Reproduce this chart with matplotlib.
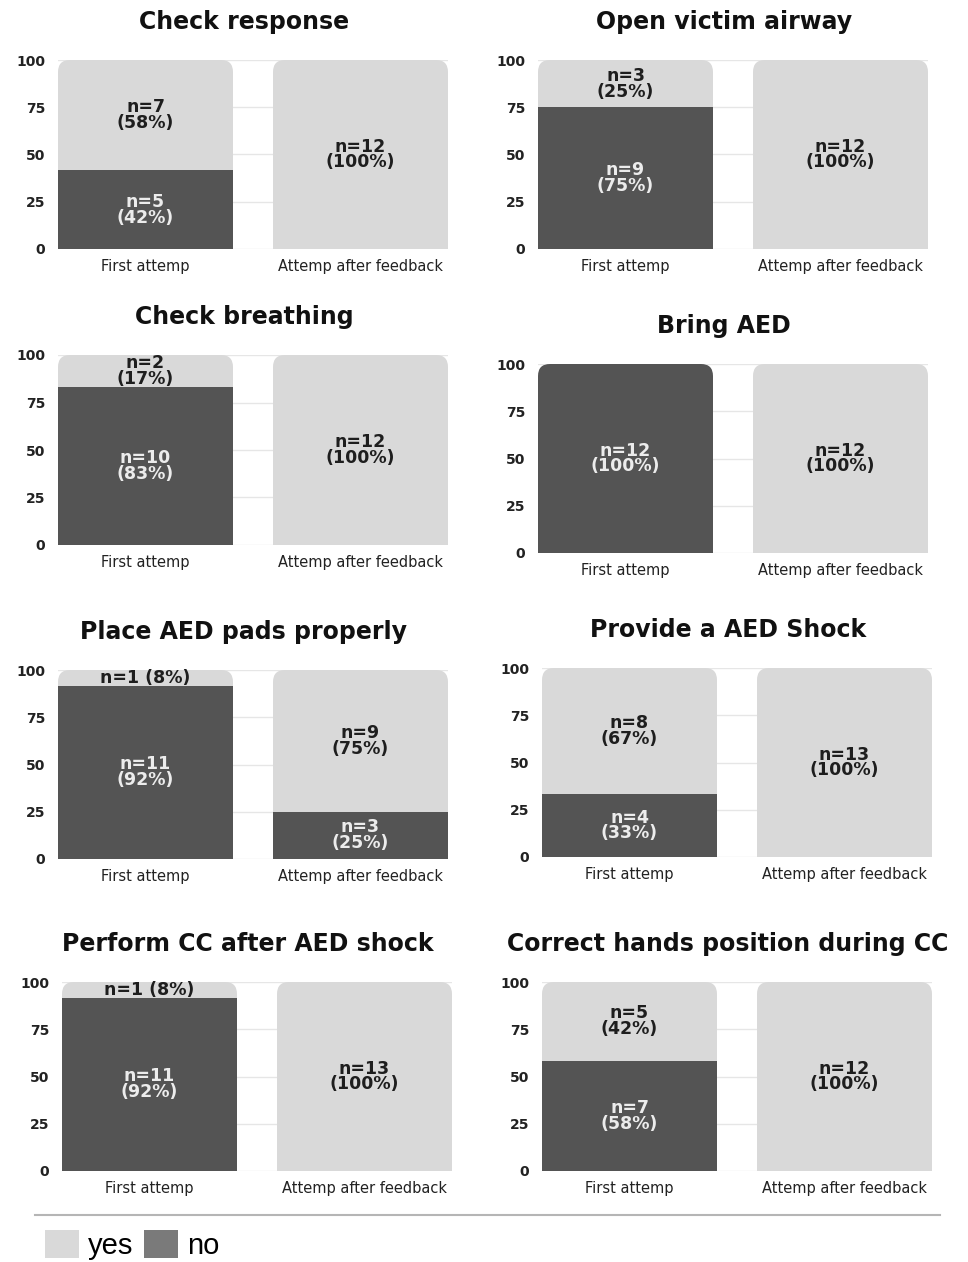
import matplotlib
matplotlib.use("Agg")
import matplotlib.pyplot as plt
import numpy as np
from matplotlib.patches import FancyBboxPatch, Patch
from matplotlib.lines import Line2D

plt.rcParams['font.family'] = ['DejaVu Sans']

# datos
titulos = ['Check response', 'Open victim airway', 'Check breathing', 'Bring AED',
           'Place AED pads properly', 'Provide a AED Shock',
           'Perform CC after AED shock', 'Correct hands position during CC']
grupos = ['First attemp', 'Attemp after feedback']
primer_no = [5, 9, 10, 12, 11, 4, 11, 7]
primer_si = [7, 3, 2, 0, 1, 8, 1, 5]
despues_no = [0, 0, 0, 0, 3, 0, 0, 0]
despues_si = [12, 12, 12, 12, 9, 13, 13, 12]
ticks_y = [0, 25, 50, 75, 100]

OSCURO = '#545454'
CLARO = '#d9d9d9'
LEYENDA_NO = '#7a7a7a'

W, H = 968, 1262
fig = plt.figure(figsize=(W / 100, H / 100), dpi=100)

# cajas de cada panel en pixeles (x0, x1, y_top, y_bottom)
cajas = [(58, 448, 60, 249), (538, 928, 60, 249),
         (58, 448, 355, 545), (538, 928, 364, 553),
         (58, 448, 670, 859), (542, 932, 668, 857),
         (62, 452, 982, 1171), (542, 932, 982, 1171)]

ancho = 0.814
radio_px = 12


def etiqueta(n, total, partido):
    pct = round(n / total * 100)
    if partido:
        return f'n={n}\n({pct}%)'
    return f'n={n} ({pct}%)'


def panel(ax, titulo, nos, sis):
    x = np.arange(len(grupos))
    totales = np.array(nos) + np.array(sis)
    pct_no = np.array(nos) / totales * 100
    pct_si = np.array(sis) / totales * 100

    ax.set_xlim(-ancho / 2, len(grupos) - 1 + ancho / 2)
    ax.set_ylim(0, 100)

    b_no = ax.bar(x, pct_no, width=ancho, color=OSCURO, zorder=2)
    b_si = ax.bar(x, pct_si, bottom=pct_no, width=ancho, color=CLARO, zorder=2)

    # esquinas redondeadas arriba
    bb = ax.get_position()
    ax_w = bb.width * W
    ax_h = bb.height * H
    xr = ax.get_xlim()[1] - ax.get_xlim()[0]
    r = radio_px * xr / ax_w
    asp = (100 / ax_h) / (xr / ax_w)
    for i, xi in enumerate(x):
        clip = FancyBboxPatch((xi - ancho / 2, -60), ancho, 160,
                              boxstyle=f'round,pad=0,rounding_size={r}',
                              mutation_aspect=asp, transform=ax.transData)
        b_no[i].set_clip_path(clip)
        b_si[i].set_clip_path(clip)

    for i, xi in enumerate(x):
        if nos[i] > 0:
            ax.text(xi, pct_no[i] / 2, etiqueta(nos[i], totales[i], pct_no[i] > 12),
                    ha='center', va='center', color='#ececec', fontsize=12.5,
                    fontweight='bold', linespacing=0.85, zorder=3)
        if sis[i] > 0:
            ax.text(xi, pct_no[i] + pct_si[i] / 2,
                    etiqueta(sis[i], totales[i], pct_si[i] > 12),
                    ha='center', va='center', color='#1e1e1e', fontsize=12.5,
                    fontweight='bold', linespacing=0.85, zorder=3)

    ax.set_yticks(ticks_y)
    ax.set_yticklabels([str(t) for t in ticks_y], fontsize=10, fontweight='bold',
                       color='#222222')
    ax.set_xticks(x)
    ax.set_xticklabels(grupos, fontsize=10.5, color='#222222')
    ax.tick_params(length=0, axis='y', pad=9)
    ax.tick_params(length=0, axis='x', pad=7)
    ax.yaxis.grid(True, color='#e6e6e6', linewidth=1)
    ax.set_axisbelow(True)
    for s in ax.spines.values():
        s.set_visible(False)
    ax.text(0.5 - 9 / ax_w, 1 + 38 / ax_h, titulo, transform=ax.transAxes,
            ha='center', va='center', fontsize=17, fontweight='bold', color='#111111')


for k, (x0, x1, yt, yb) in enumerate(cajas):
    ax = fig.add_axes([x0 / W, 1 - yb / H, (x1 - x0) / W, (yb - yt) / H])
    panel(ax, titulos[k], [primer_no[k], despues_no[k]], [primer_si[k], despues_si[k]])

# linea separadora y leyenda
fig.add_artist(Line2D([35 / W, 940 / W], [1 - 1215 / H, 1 - 1215 / H],
                      color='#b5b5b5', linewidth=1.5))
manijas = [Patch(facecolor=CLARO, label='yes'), Patch(facecolor=LEYENDA_NO, label='no')]
fig.legend(handles=manijas, loc='center left', bbox_to_anchor=(45 / W, 1 - 1245 / H),
           ncol=2, frameon=False, handlelength=1.16, handleheight=1.1,
           handletextpad=0.3, columnspacing=0.38, borderpad=0, borderaxespad=0,
           prop={'family': ['Liberation Sans Narrow', 'Liberation Sans'], 'size': 21})

fig.savefig('out.png', dpi=100)
